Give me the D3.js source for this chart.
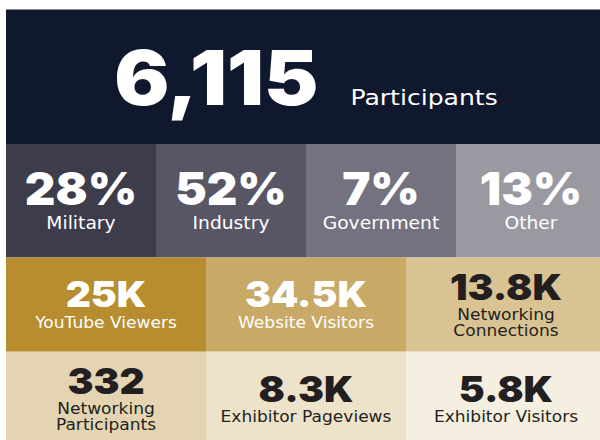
<!DOCTYPE html>
<html>
<head>
<meta charset="utf-8">
<script src="https://cdn.jsdelivr.net/npm/d3@7/dist/d3.min.js"></script>
<style>
  html, body { margin: 0; padding: 0; background: #fff; }
  svg { display: block; }
</style>
</head>
<body>
<div id="chart"></div>
<script>
// headline
var headlineValue = "6,115";
var headlineLabel = "Participants";

// audience split (percent)
var audienceShares = [28, 52, 7, 13];
var audienceLabels = ["Military", "Industry", "Government", "Other"];
var audienceColors = ["#3c3c4b", "#585664", "#74727e", "#9a98a0"];

// online reach
var reachValues = ["25K", "34.5K", "13.8K"];
var reachLabels = [["YouTube Viewers"], ["Website Visitors"], ["Networking", "Connections"]];
var reachColors = ["#b88d2f", "#c8aa66", "#dac393"];

// engagement
var engageValues = ["332", "8.3K", "5.8K"];
var engageLabels = [["Networking", "Participants"], ["Exhibitor Pageviews"], ["Exhibitor Visitors"]];
var engageColors = ["#e4d4b2", "#ede2ca", "#f5efe2"];

var width = 600, height = 440;
var numFont = "Inter, 'DejaVu Sans', sans-serif";
var lblFont = "'DejaVu Sans', sans-serif";
var dark = "#231f20";
var lblStretch = 1.1;   // fonts here are narrower than the original's

var svg = d3.select("#chart").append("svg")
    .attr("width", width)
    .attr("height", height);

// row layout: [top, bottom]
var rows = {
    banner: [9.5, 144],
    audience: [144, 257.5],
    reach: [257.5, 351.7],
    engage: [351.7, 445.9]
};

function textColor(bg) {
    return d3.hsl(bg).l > 0.65 ? dark : "#fff";
}

// widen a text node by a factor
function stretch(sel, k) {
    sel.each(function() {
        var w = this.getComputedTextLength();
        d3.select(this)
            .attr("textLength", w * k)
            .attr("lengthAdjust", "spacingAndGlyphs");
    });
}

// banner
svg.append("rect")
    .attr("x", 6).attr("y", rows.banner[0])
    .attr("width", 600).attr("height", rows.banner[1] - rows.banner[0])
    .attr("fill", "#10182e");

var bannerG = svg.append("g");
var bigNum = bannerG.append("text")
    .attr("y", 105)
    .attr("font-family", numFont)
    .attr("font-weight", 900)
    .attr("font-size", 75)
    .attr("fill", "#fff")
    .text(headlineValue);
var bigLbl = bannerG.append("text")
    .attr("y", 105)
    .attr("font-family", lblFont)
    .attr("font-size", 22)
    .attr("fill", "#fff")
    .text(headlineLabel);

stretch(bigNum, 1.09);
stretch(bigLbl, 1.14);
var numW = +bigNum.attr("textLength");
var lblW = +bigLbl.attr("textLength");
var gap = 32;
var startX = 306 - (numW + gap + lblW) / 2;
bigNum.attr("x", startX);
bigLbl.attr("x", startX + numW + gap);

function drawRow(values, labels, colors, band, numSize, numK, lblSize, numGap, lineH, capH) {
    var x = d3.scaleBand()
        .domain(d3.range(values.length))
        .range([6, 606])
        .padding(0);

    var cells = svg.append("g").selectAll("g")
        .data(values)
        .enter().append("g")
        .attr("transform", function(d, i) { return "translate(" + x(i) + "," + band[0] + ")"; });

    cells.append("rect")
        .attr("width", x.bandwidth())
        .attr("height", band[1] - band[0])
        .attr("fill", function(d, i) { return colors[i]; });

    var cy = (band[1] - band[0]) / 2;

    cells.each(function(d, i) {
        var g = d3.select(this);
        var lines = labels[i];
        var blockH = capH + numGap + (lines.length - 1) * lineH;
        var base = cy - blockH / 2 + capH;
        var fill = textColor(colors[i]);

        g.append("text")
            .attr("x", x.bandwidth() / 2)
            .attr("y", base)
            .attr("text-anchor", "middle")
            .attr("font-family", numFont)
            .attr("font-weight", 900)
            .attr("font-size", numSize)
            .attr("fill", fill)
            .text(d)
            .call(stretch, numK);

        g.selectAll("text.lbl")
            .data(lines)
            .enter().append("text")
            .attr("class", "lbl")
            .attr("x", x.bandwidth() / 2)
            .attr("y", function(l, j) { return base + numGap + j * lineH; })
            .attr("text-anchor", "middle")
            .attr("font-family", lblFont)
            .attr("font-size", lblSize)
            .attr("fill", fill)
            .text(function(l) { return l; })
            .call(stretch, lblStretch);
    });
}

drawRow(audienceShares.map(function(v) { return v + "%"; }),
        audienceLabels.map(function(l) { return [l]; }),
        audienceColors, rows.audience, 46, 1.03, 17, 24, 16, 33);
drawRow(reachValues, reachLabels, reachColors, rows.reach, 36, 1.08, 15.5, 20.5, 15.3, 26);
drawRow(engageValues, engageLabels, engageColors, rows.engage, 36, 1.08, 15.5, 20.5, 15.3, 26);
</script>
</body>
</html>
